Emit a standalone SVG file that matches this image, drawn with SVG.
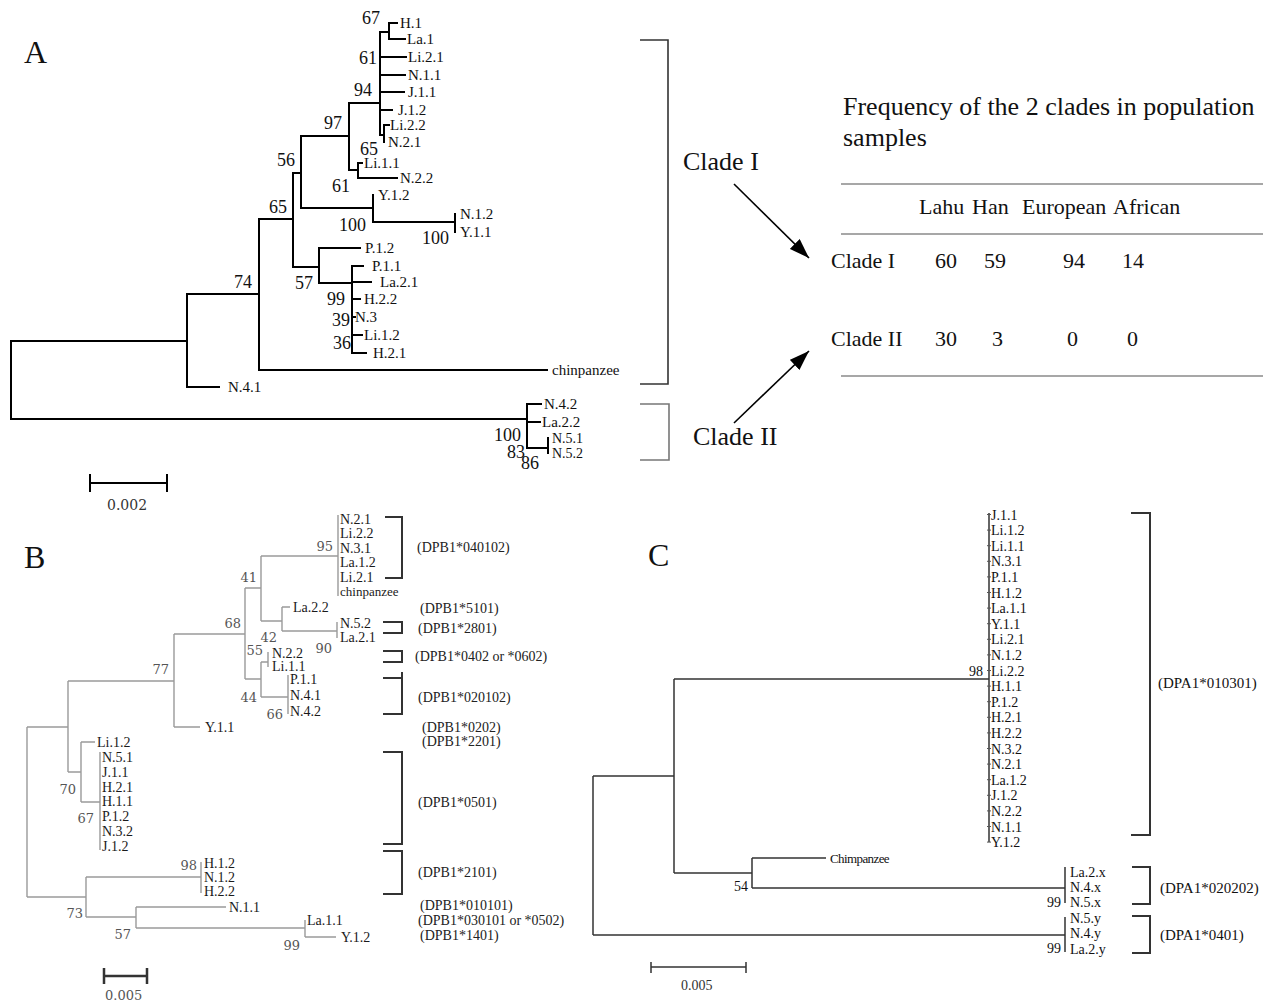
<svg xmlns="http://www.w3.org/2000/svg" width="1275" height="1006" viewBox="0 0 1275 1006">
<style>
text{font-family:"Liberation Serif","Times New Roman",serif;fill:#111}
.pl{font-size:32px}
.la{font-size:15px}
.sa{font-size:18px;text-anchor:end}
.ta{fill:none;stroke:#000;stroke-width:2;stroke-linecap:square}
.br{fill:none;stroke:#333;stroke-width:1.6}
.tl{stroke:#8a8a8a;stroke-width:1.5}
.big{font-size:26px}
.tab{font-size:22px}
.tb{fill:none;stroke:#9a9a9a;stroke-width:1.4}
.lb{font-size:14px;fill:#1a1a1a}
.sb{font-family:"DejaVu Serif",serif;font-size:13px;fill:#555;text-anchor:end}
.bb{fill:none;stroke:#333;stroke-width:2}
.al{font-size:14px;fill:#222}
.tc{fill:none;stroke:#333;stroke-width:1.5}
.lc{font-size:14px;fill:#111}
.sc{font-size:14px;text-anchor:end}
.ac{font-size:15px}
</style>
<defs>
<marker id="ah2" viewBox="0 0 20 14" refX="20" refY="7" markerWidth="20" markerHeight="14" markerUnits="userSpaceOnUse" orient="auto">
<path d="M0,0 L20,7 L0,14 z" fill="#000"/>
</marker>
</defs>
<rect width="1275" height="1006" fill="#fff"/>

<!-- Panel A -->
<g id="panelA">
<text class="pl" x="24" y="63">A</text>
<g id="treeA-connectors">
<path class="ta" d="M11,341V419M11,341H187M11,419H527
M187,294V387M187,387H219M187,294H259
M259,219V370M259,370H547M259,219H293
M293,173V267M293,173H301M293,267H319
M301,136V208M301,136H349M301,208H373
M349,103V170M349,103H380M349,170H358
M358,163V178M358,163H362M358,178H397
M380,32V135M380,32H389M380,57H406M380,75H405M380,92H404M380,110H392M380,135H384
M389,23V39M389,23H397M389,39H405
M384,125V142M384,125H389
M373,195V222M373,222H455M455,214V232
M319,248V283M319,248H360M319,283H352
M352,266V353M352,266H363M352,282H371M352,299H360M352,317H355M352,335H362M352,353H366
M527,404V448M527,404H541M529,422H540M527,448H548M548,438V453"/>
</g>
<g id="leavesA">
<text class="la" x="400" y="28">H.1</text>
<text class="la" x="407" y="44">La.1</text>
<text class="la" x="408" y="62">Li.2.1</text>
<text class="la" x="408" y="80">N.1.1</text>
<text class="la" x="408" y="97">J.1.1</text>
<text class="la" x="398" y="115">J.1.2</text>
<text class="la" x="390" y="130">Li.2.2</text>
<text class="la" x="388" y="147">N.2.1</text>
<text class="la" x="364" y="168">Li.1.1</text>
<text class="la" x="400" y="183">N.2.2</text>
<text class="la" x="378" y="200">Y.1.2</text>
<text class="la" x="460" y="219">N.1.2</text>
<text class="la" x="460" y="237">Y.1.1</text>
<text class="la" x="365" y="253">P.1.2</text>
<text class="la" x="372" y="271">P.1.1</text>
<text class="la" x="380" y="287">La.2.1</text>
<text class="la" x="364" y="304">H.2.2</text>
<text class="la" x="355" y="322">N.3</text>
<text class="la" x="364" y="340">Li.1.2</text>
<text class="la" x="373" y="358">H.2.1</text>
<text class="la" x="552" y="375">chinpanzee</text>
<text class="la" x="228" y="392">N.4.1</text>
<text class="la" x="544" y="409">N.4.2</text>
<text class="la" x="542" y="427">La.2.2</text>
<text class="la" x="552" y="443" style="font-size:14px">N.5.1</text>
<text class="la" x="552" y="458" style="font-size:14px">N.5.2</text>
</g>
<g id="supportA">
<text class="sa" x="380" y="24">67</text>
<text class="sa" x="377" y="64">61</text>
<text class="sa" x="372" y="96">94</text>
<text class="sa" x="342" y="129">97</text>
<text class="sa" x="378" y="155">65</text>
<text class="sa" x="295" y="166">56</text>
<text class="sa" x="350" y="192">61</text>
<text class="sa" x="287" y="213">65</text>
<text class="sa" x="366" y="231">100</text>
<text class="sa" x="449" y="244">100</text>
<text class="sa" x="252" y="288">74</text>
<text class="sa" x="313" y="289">57</text>
<text class="sa" x="345" y="305">99</text>
<text class="sa" x="350" y="326">39</text>
<text class="sa" x="351" y="349">36</text>
<text class="sa" x="521" y="441">100</text>
<text class="sa" x="525" y="458">83</text>
<text class="sa" x="539" y="469">86</text>
</g>
<g id="scaleA">
<path class="ta" d="M90,483H167M90,475V491M167,475V491"/>
<text x="107" y="510" style="font-family:'DejaVu Serif',serif;font-size:14px;fill:#333">0.002</text>
</g>
<g id="cladeI-bracket"><path class="br" d="M640,40H668V384H640"/></g>
<g id="cladeII-bracket"><path class="br" d="M640,404H669V460H640" style="stroke:#777"/></g>
<g id="cladeI-label"><text class="big" x="683" y="170">Clade I</text></g>
<g id="cladeII-label"><text class="big" x="693" y="445">Clade II</text></g>
<g id="arrowsA">
<line x1="734" y1="184" x2="809" y2="258" stroke="#000" stroke-width="1.6" marker-end="url(#ah2)"/>
<line x1="734" y1="423" x2="809" y2="351" stroke="#000" stroke-width="1.6" marker-end="url(#ah2)"/>
</g>
<g id="freqTable">
<text class="big" x="843" y="115">Frequency of the 2 clades in population</text>
<text class="big" x="843" y="146">samples</text>
<line class="tl" x1="841" y1="184" x2="1263" y2="184"/>
<line class="tl" x1="841" y1="234" x2="1263" y2="234"/>
<line class="tl" x1="841" y1="376" x2="1263" y2="376"/>
<text class="tab" x="919" y="214">Lahu</text>
<text class="tab" x="972" y="214">Han</text>
<text class="tab" x="1022" y="214">European</text>
<text class="tab" x="1113" y="214">African</text>
<text class="tab" x="831" y="268">Clade I</text>
<text class="tab" x="935" y="268">60</text>
<text class="tab" x="984" y="268">59</text>
<text class="tab" x="1063" y="268">94</text>
<text class="tab" x="1122" y="268">14</text>
<text class="tab" x="831" y="346">Clade II</text>
<text class="tab" x="935" y="346">30</text>
<text class="tab" x="992" y="346">3</text>
<text class="tab" x="1067" y="346">0</text>
<text class="tab" x="1127" y="346">0</text>
</g>
</g>

<!-- Panel B -->
<g id="panelB">
<text class="pl" x="24" y="568">B</text>
<g id="treeB-connectors">
<path class="tb" d="M27,727V897M27,727H68M27,897H86
M68,681V772M68,681H174M68,772H81
M174,634V727M174,634H245M174,727H200
M245,588V679M245,588H261M245,679H261
M261,556V621M261,556H338M261,621H282
M338,515V596
M282,607V631M282,607H290M282,631H337M337,622V638
M261,662V697M261,662H268M261,697H288M268,652V667M288,675V714
M81,742V802M81,742H95M81,802H100M100,752V850
M86,877V917M86,877H201M86,917H136M201,862V893
M136,907V928M136,907H226M136,928H305M305,920V937M305,937H336"/>
</g>
<g id="leavesB">
<text class="lb" x="340" y="524">N.2.1</text>
<text class="lb" x="340" y="538">Li.2.2</text>
<text class="lb" x="340" y="553">N.3.1</text>
<text class="lb" x="340" y="567">La.1.2</text>
<text class="lb" x="340" y="582">Li.2.1</text>
<text class="lb" x="340" y="596" style="font-size:13px">chinpanzee</text>
<text class="lb" x="293" y="612">La.2.2</text>
<text class="lb" x="340" y="628">N.5.2</text>
<text class="lb" x="340" y="642">La.2.1</text>
<text class="lb" x="272" y="658">N.2.2</text>
<text class="lb" x="272" y="671">Li.1.1</text>
<text class="lb" x="290" y="684">P.1.1</text>
<text class="lb" x="290" y="700">N.4.1</text>
<text class="lb" x="290" y="716">N.4.2</text>
<text class="lb" x="205" y="732">Y.1.1</text>
<text class="lb" x="97" y="747">Li.1.2</text>
<text class="lb" x="102" y="762">N.5.1</text>
<text class="lb" x="102" y="777">J.1.1</text>
<text class="lb" x="102" y="792">H.2.1</text>
<text class="lb" x="102" y="806">H.1.1</text>
<text class="lb" x="102" y="821">P.1.2</text>
<text class="lb" x="102" y="836">N.3.2</text>
<text class="lb" x="102" y="851">J.1.2</text>
<text class="lb" x="204" y="868">H.1.2</text>
<text class="lb" x="204" y="882">N.1.2</text>
<text class="lb" x="204" y="896">H.2.2</text>
<text class="lb" x="229" y="912">N.1.1</text>
<text class="lb" x="307" y="925">La.1.1</text>
<text class="lb" x="341" y="942">Y.1.2</text>
</g>
<g id="supportB">
<text class="sb" x="333" y="551">95</text>
<text class="sb" x="257" y="582">41</text>
<text class="sb" x="241" y="628">68</text>
<text class="sb" x="277" y="642">42</text>
<text class="sb" x="332" y="653">90</text>
<text class="sb" x="263" y="655">55</text>
<text class="sb" x="257" y="702">44</text>
<text class="sb" x="283" y="719">66</text>
<text class="sb" x="169" y="674">77</text>
<text class="sb" x="76" y="794">70</text>
<text class="sb" x="94" y="823">67</text>
<text class="sb" x="197" y="870">98</text>
<text class="sb" x="83" y="918">73</text>
<text class="sb" x="131" y="939">57</text>
<text class="sb" x="300" y="950">99</text>
</g>
<g id="scaleB">
<path fill="none" stroke="#333" stroke-width="2.5" d="M104,976H147M104,968V984M147,968V984"/>
<text x="105" y="1000" style="font-family:'DejaVu Serif',serif;font-size:13px;fill:#555">0.005</text>
</g>
<g id="bracketsB">
<path class="bb" d="M385,517H402V578H385M383,622H402V633H383M383,651H402V662H383M383,678H402V714H383M402,672V678M383,752H402V844H383M383,851H402V894H383"/>
</g>
<g id="allelesB">
<text class="al" x="417" y="552">(DPB1*040102)</text>
<text class="al" x="420" y="613">(DPB1*5101)</text>
<text class="al" x="418" y="633">(DPB1*2801)</text>
<text class="al" x="415" y="661">(DPB1*0402 or *0602)</text>
<text class="al" x="418" y="702">(DPB1*020102)</text>
<text class="al" x="422" y="732">(DPB1*0202)</text>
<text class="al" x="422" y="746">(DPB1*2201)</text>
<text class="al" x="418" y="807">(DPB1*0501)</text>
<text class="al" x="418" y="877">(DPB1*2101)</text>
<text class="al" x="420" y="910">(DPB1*010101)</text>
<text class="al" x="418" y="925">(DPB1*030101 or *0502)</text>
<text class="al" x="420" y="940">(DPB1*1401)</text>
</g>
</g>

<!-- Panel C -->
<g id="panelC">
<text class="pl" x="648" y="566">C</text>
<g id="treeC-connectors">
<path class="tc" d="M593,776V935M593,776H674M593,935H1065
M674,679V873M674,679H989M674,873H752
M752,858V888M752,858H826M752,888H1065
M989,513V842
M1065,867V903M1065,917V952"/>
<path fill="none" stroke="#555" stroke-width="1" d="M987,514.5H991M987,530.1H991M987,545.7H991M987,561.3H991M987,576.9H991M987,592.5H991M987,608.1H991M987,623.7H991M987,639.3H991M987,654.9H991M987,670.5H991M987,686.1H991M987,701.7H991M987,717.3H991M987,732.9H991M987,748.5H991M987,764.1H991M987,779.7H991M987,795.3H991M987,810.9H991M987,826.5H991M987,842.1H991"/>
</g>
<g id="leavesC">
<text class="lc" x="991" y="519.5">J.1.1</text>
<text class="lc" x="991" y="535.1">Li.1.2</text>
<text class="lc" x="991" y="550.7">Li.1.1</text>
<text class="lc" x="991" y="566.3">N.3.1</text>
<text class="lc" x="991" y="581.9">P.1.1</text>
<text class="lc" x="991" y="597.5">H.1.2</text>
<text class="lc" x="991" y="613.1">La.1.1</text>
<text class="lc" x="991" y="628.7">Y.1.1</text>
<text class="lc" x="991" y="644.3">Li.2.1</text>
<text class="lc" x="991" y="659.9">N.1.2</text>
<text class="lc" x="991" y="675.5">Li.2.2</text>
<text class="lc" x="991" y="691.1">H.1.1</text>
<text class="lc" x="991" y="706.7">P.1.2</text>
<text class="lc" x="991" y="722.3">H.2.1</text>
<text class="lc" x="991" y="737.9">H.2.2</text>
<text class="lc" x="991" y="753.5">N.3.2</text>
<text class="lc" x="991" y="769.1">N.2.1</text>
<text class="lc" x="991" y="784.7">La.1.2</text>
<text class="lc" x="991" y="800.3">J.1.2</text>
<text class="lc" x="991" y="815.9">N.2.2</text>
<text class="lc" x="991" y="831.5">N.1.1</text>
<text class="lc" x="991" y="847.1">Y.1.2</text>
<text class="lc" x="830" y="863" style="font-size:13px;letter-spacing:-0.6px">Chimpanzee</text>
<text class="lc" x="1070" y="877">La.2.x</text>
<text class="lc" x="1070" y="892">N.4.x</text>
<text class="lc" x="1070" y="907">N.5.x</text>
<text class="lc" x="1070" y="923">N.5.y</text>
<text class="lc" x="1070" y="938">N.4.y</text>
<text class="lc" x="1070" y="954">La.2.y</text>
</g>
<g id="supportC">
<text class="sc" x="983" y="676">98</text>
<text class="sc" x="748" y="891">54</text>
<text class="sc" x="1061" y="907">99</text>
<text class="sc" x="1061" y="953">99</text>
</g>
<g id="bracketsC">
<path class="bb" d="M1131,513H1150V835H1131M1132,867H1150V904H1132M1132,916H1150V953H1132"/>
</g>
<g id="allelesC">
<text class="ac" x="1158" y="688">(DPA1*010301)</text>
<text class="ac" x="1160" y="893">(DPA1*020202)</text>
<text class="ac" x="1160" y="940">(DPA1*0401)</text>
</g>
<g id="scaleC">
<path fill="none" stroke="#333" stroke-width="1.5" d="M651,967H746M651,962V973M746,962V973"/>
<text x="681" y="990" style="font-size:14px;fill:#333">0.005</text>
</g>
</g>
</svg>
